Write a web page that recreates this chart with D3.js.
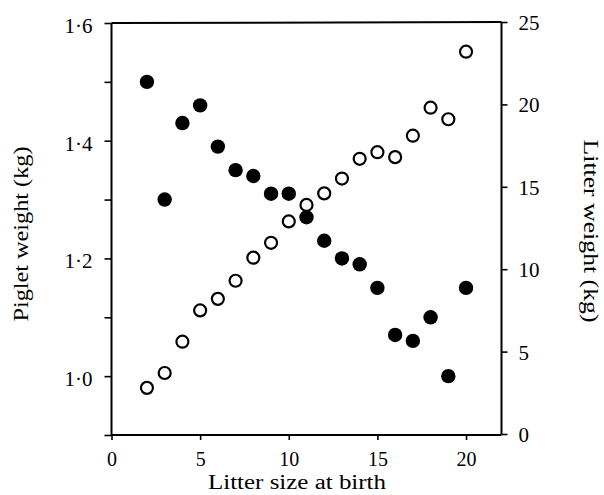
<!DOCTYPE html>
<html>
<head>
<meta charset="utf-8">
<script src="https://cdn.jsdelivr.net/npm/d3@7"></script>
<style>
  html, body { margin: 0; padding: 0; background: #fff; }
  svg { display: block; }
  text { font-family: "Liberation Serif", "Times New Roman", serif; fill: #000; }
</style>
</head>
<body>
<svg id="chart" width="604" height="495"></svg>
<script>
// Litter size at birth (number of piglets)
const litterSize = [2, 3, 4, 5, 6, 7, 8, 9, 10, 11, 12, 13, 14, 15, 16, 17, 18, 19, 20];
// Mean piglet weight at birth (kg) — filled circles, left axis
const pigletWeight = [1.50, 1.30, 1.43, 1.46, 1.39, 1.35, 1.34, 1.31, 1.31, 1.27,
                      1.23, 1.20, 1.19, 1.15, 1.07, 1.06, 1.10, 1.00, 1.15];
// Total litter weight at birth (kg) — open circles, right axis
const litterWeight = [2.8, 3.7, 5.6, 7.5, 8.2, 9.3, 10.7, 11.6, 12.9, 13.9,
                      14.6, 15.5, 16.7, 17.1, 16.8, 18.1, 19.8, 19.1, 23.2];

const xTicks = [0, 5, 10, 15, 20];
const leftTicks = [0.9, 1.0, 1.1, 1.2, 1.3, 1.4, 1.5, 1.6];
const leftLabelled = [1.0, 1.2, 1.4, 1.6];
const rightTicks = [0, 5, 10, 15, 20, 25];

const svg = d3.select("#chart");

const x = d3.scaleLinear().domain([0, 22]).range([111.5, 501.5]);
const yL = d3.scaleLinear().domain([0.9, 1.6]).range([435, 23]);
const yR = d3.scaleLinear().domain([0, 25]).range([434, 22]);

const fmtL = v => leftLabelled.some(t => Math.abs(t - v) < 1e-9)
  ? d3.format(".1f")(v).replace(".", "\u00b7") : "";

// Axes
const gx = svg.append("g").attr("transform", `translate(0,${yL(0.9)})`)
  .call(d3.axisBottom(x).tickValues(xTicks).tickSize(5).tickPadding(12).tickFormat(d3.format("d")));
const gl = svg.append("g").attr("transform", `translate(${x(0)},0)`)
  .call(d3.axisLeft(yL).tickValues(leftTicks).tickSize(7).tickPadding(12).tickFormat(fmtL));
const gr = svg.append("g").attr("transform", `translate(${x(22)},0)`)
  .call(d3.axisRight(yR).tickValues(rightTicks).tickSize(6).tickPadding(11).tickFormat(d3.format("d")));

[gx, gl, gr].forEach(g => {
  g.select(".domain").attr("stroke", "#000").attr("stroke-width", 2);
  g.selectAll(".tick line").attr("stroke", "#000").attr("stroke-width", 1.6);
  g.selectAll(".tick text").attr("font-size", 21)
    .attr("font-family", "'Liberation Serif', 'Times New Roman', serif").attr("fill", "#000");
});
gx.selectAll(".tick text").attr("font-size", 20);
gl.selectAll(".domain").attr("d", `M0,${yL(0.9)}V${yL(1.6)}`);
gr.selectAll(".domain").attr("d", `M0,${yR(0)}V${yR(25)}`);
gx.selectAll(".domain").attr("d", `M${x(0)},0H${x(22)}`);
gl.selectAll(".tick text").attr("dy", "0.45em");
gr.selectAll(".tick text").attr("dy", "0.36em");

// Top edge of the frame
svg.append("line")
  .attr("x1", x(0)).attr("x2", x(22))
  .attr("y1", yL(1.6)).attr("y2", yR(25))
  .attr("stroke", "#000").attr("stroke-width", 2);

// Piglet weight: filled circles
svg.append("g").selectAll("circle")
  .data(litterSize.map((s, i) => [s, pigletWeight[i]]))
  .join("circle")
  .attr("cx", d => x(d[0])).attr("cy", d => yL(d[1]))
  .attr("r", 7.2).attr("fill", "#000");

// Litter weight: open circles
svg.append("g").selectAll("circle")
  .data(litterSize.map((s, i) => [s, litterWeight[i]]))
  .join("circle")
  .attr("cx", d => x(d[0])).attr("cy", d => yR(d[1]))
  .attr("r", 6).attr("fill", "#fff").attr("stroke", "#000").attr("stroke-width", 2.2);

// Axis titles
svg.append("text")
  .attr("x", 297).attr("y", 489)
  .attr("text-anchor", "middle").attr("font-size", 20)
  .attr("textLength", 178).attr("lengthAdjust", "spacingAndGlyphs")
  .text("Litter size at birth");

svg.append("text")
  .attr("transform", "translate(28,234) rotate(-90)")
  .attr("text-anchor", "middle").attr("font-size", 21)
  .attr("textLength", 175).attr("lengthAdjust", "spacingAndGlyphs")
  .text("Piglet weight (kg)");

svg.append("text")
  .attr("transform", "translate(584,231) rotate(90)")
  .attr("text-anchor", "middle").attr("font-size", 21)
  .attr("textLength", 183).attr("lengthAdjust", "spacingAndGlyphs")
  .text("Litter weight (kg)");
</script>
</body>
</html>
